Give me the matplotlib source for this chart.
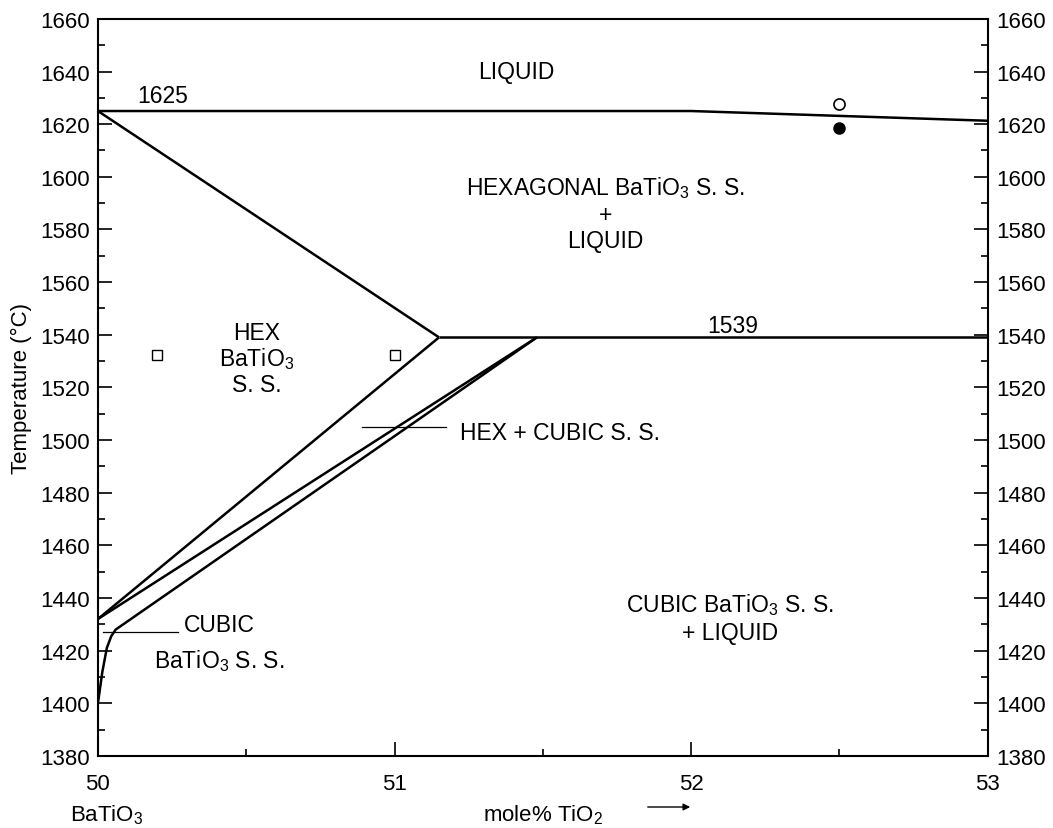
import matplotlib
matplotlib.use('Agg')
import matplotlib.pyplot as plt
from matplotlib.ticker import MultipleLocator

plt.rcParams['font.family'] = ['Liberation Sans', 'DejaVu Sans']
plt.rcParams['mathtext.fontset'] = 'custom'
plt.rcParams['mathtext.rm'] = 'Liberation Sans'
plt.rcParams['mathtext.it'] = 'Liberation Sans'

# phase boundaries (mole% TiO2, temperature C)
liquidus_x = [50.0, 52.0, 53.0]
liquidus_t = [1625, 1625, 1621.3]

hex_upper_x = [50.0, 51.15]
hex_upper_t = [1625, 1539]

eutectic_x = [51.15, 53.0]
eutectic_t = [1539, 1539]

hex_lower_x = [51.15, 50.0]
hex_lower_t = [1539, 1432]

cubic_upper_x = [51.48, 50.0]
cubic_upper_t = [1539, 1432]

cubic_lower_x = [51.48, 50.06, 50.045, 50.03, 50.015, 50.005, 50.0]
cubic_lower_t = [1539, 1428, 1425.5, 1421, 1412, 1404, 1400]

# experimental points
sq_x = [50.2, 51.0]
sq_t = [1532.3, 1532.3]
open_x, open_t = [52.5], [1627.7]
fill_x, fill_t = [52.5], [1618.6]

fig = plt.figure(figsize=(10.53, 8.29), dpi=100)
ax = fig.add_axes([0.093, 0.087, 0.845, 0.889])

lw = 1.8
for xs, ts in [(liquidus_x, liquidus_t), (hex_upper_x, hex_upper_t),
               (eutectic_x, eutectic_t), (hex_lower_x, hex_lower_t),
               (cubic_upper_x, cubic_upper_t), (cubic_lower_x, cubic_lower_t)]:
    ax.plot(xs, ts, color='black', lw=lw, solid_capstyle='butt')

ax.plot(sq_x, sq_t, 's', ms=7, mfc='white', mec='black', mew=1.0, ls='none')
ax.plot(open_x, open_t, 'o', ms=8, mfc='white', mec='black', mew=1.2, ls='none')
ax.plot(fill_x, fill_t, 'o', ms=8, mfc='black', mec='black', ls='none')

# leader lines
ax.plot([50.017, 50.27], [1427.1, 1427.1], color='black', lw=0.9)
ax.plot([50.89, 51.175], [1505, 1505], color='black', lw=0.9)

ax.set_xlim(50, 53)
ax.set_ylim(1380, 1660)
ax.xaxis.set_major_locator(MultipleLocator(1))
ax.xaxis.set_minor_locator(MultipleLocator(0.5))
ax.yaxis.set_major_locator(MultipleLocator(20))
ax.yaxis.set_minor_locator(MultipleLocator(10))
ax.tick_params(axis='both', which='both', direction='in', labelsize=16, width=1.2)
ax.tick_params(axis='y', which='both', left=True, right=True, labelright=True)
ax.tick_params(axis='x', which='both', top=False)
ax.tick_params(which='major', length=10)
ax.tick_params(which='minor', length=5)
ax.tick_params(axis='x', which='major', pad=12)
ax.tick_params(axis='y', which='major', pad=6)
for s in ax.spines.values():
    s.set_linewidth(1.5)

ax.set_ylabel('Temperature (°C)', fontsize=16, labelpad=6)

fs = 16.5
ax.text(51.41, 1640, 'LIQUID', fontsize=fs, ha='center', va='center')
ax.text(50.22, 1631, '1625', fontsize=fs, ha='center', va='center')
ax.text(51.71, 1596.2, r'HEXAGONAL BaTiO$_\mathregular{3}$ S. S.', fontsize=fs, ha='center', va='center')
ax.text(51.71, 1585.5, '+', fontsize=fs, ha='center', va='center')
ax.text(51.71, 1575.7, 'LIQUID', fontsize=fs, ha='center', va='center')
ax.text(52.14, 1543.4, '1539', fontsize=fs, ha='center', va='center')
ax.text(50.535, 1541, 'HEX', fontsize=fs, ha='center', va='center')
ax.text(50.535, 1531, r'BaTiO$_\mathregular{3}$', fontsize=fs, ha='center', va='center')
ax.text(50.535, 1521, 'S. S.', fontsize=fs, ha='center', va='center')
ax.text(51.22, 1503, 'HEX + CUBIC S. S.', fontsize=fs, ha='left', va='center')
ax.text(50.29, 1430, 'CUBIC', fontsize=fs, ha='left', va='center')
ax.text(50.19, 1416.5, r'BaTiO$_\mathregular{3}$ S. S.', fontsize=fs, ha='left', va='center')
ax.text(52.13, 1437.5, r'CUBIC BaTiO$_\mathregular{3}$ S. S.', fontsize=fs, ha='center', va='center')
ax.text(52.13, 1427, '+ LIQUID', fontsize=fs, ha='center', va='center')

# axis annotations below
fig.text(107 / 1053, 1 - 815 / 829, r'BaTiO$_\mathregular{3}$', fontsize=16, ha='center', va='center')
fig.text(543 / 1053, 1 - 815 / 829, r'mole% TiO$_\mathregular{2}$', fontsize=16, ha='center', va='center')
ax.annotate('', xy=(693 / 1053, 1 - 808 / 829), xytext=(645 / 1053, 1 - 808 / 829),
            xycoords='figure fraction', textcoords='figure fraction',
            arrowprops=dict(arrowstyle='-|>', color='black', lw=1.0, mutation_scale=10))

fig.savefig('out.png', dpi=100)
